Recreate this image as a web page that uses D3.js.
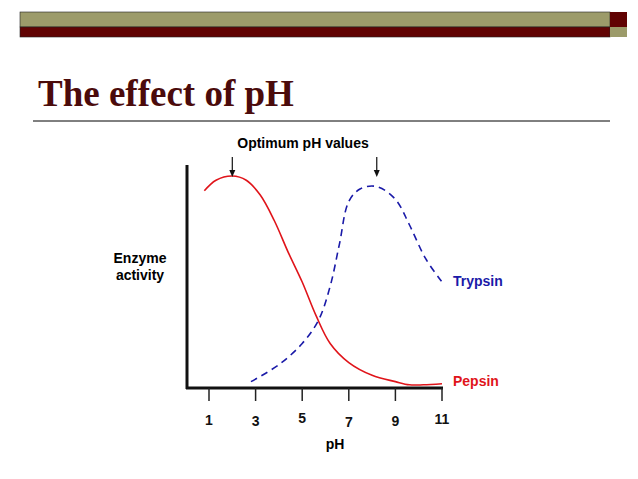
<!DOCTYPE html>
<html>
<head>
<meta charset="utf-8">
<script src="https://cdn.jsdelivr.net/npm/d3@7"></script>
<style>
  body { margin: 0; background: #fff; }
  text { font-family: 'Liberation Sans', Arial, sans-serif; font-weight: bold; }
</style>
</head>
<body>
<svg id="chart" width="638" height="479"></svg>
<script>
// values (pH, relative activity 0-100)
const ticks = [1, 3, 5, 7, 9, 11]
const pepsin = [[0.8, 93], [1.3, 98], [2, 100], [2.6, 98], [3.2, 91], [3.8, 79], [4.4, 64], [5, 50],
  [5.6, 34], [6.2, 21], [7, 12], [8, 6], [9, 3], [9.6, 1.5], [10.2, 1.5], [11, 2]]
const trypsin = [[2.8, 3], [4, 11], [5, 21], [5.7, 32], [6.2, 48], [6.6, 68], [7, 88], [7.5, 94],
  [8.2, 95], [9, 89], [9.6, 77], [10.3, 61], [11, 50]]
const optima = [2, 8.2]

const svg = d3.select('#chart')

// slide banner
svg.append('rect').attr('x', 20).attr('y', 12).attr('width', 590).attr('height', 15).attr('fill', '#9c9b6a').attr('stroke', '#222').attr('stroke-width', 0.6)
svg.append('rect').attr('x', 20).attr('y', 27).attr('width', 590).attr('height', 10).attr('fill', '#610303').attr('stroke', '#222').attr('stroke-width', 0.6)
svg.append('rect').attr('x', 610).attr('y', 12).attr('width', 17).attr('height', 15).attr('fill', '#610303')
svg.append('rect').attr('x', 610).attr('y', 27).attr('width', 17).attr('height', 10).attr('fill', '#9c9b6a')

svg.append('text').attr('x', 38).attr('y', 106).text('The effect of pH')
  .style('font-family', "'Liberation Serif', 'Times New Roman', serif").style('font-size', '37px').attr('fill', '#4b0b0b')
svg.append('line').attr('x1', 33).attr('x2', 610).attr('y1', 121).attr('y2', 121).attr('stroke', '#000').attr('stroke-width', 1)

const x = d3.scaleLinear().domain([1, 11]).range([209, 442])
const y = d3.scaleLinear().domain([0, 100]).range([388, 176])

// axes
svg.append('line').attr('x1', 187).attr('x2', 187).attr('y1', 165).attr('y2', 389).attr('stroke', '#111').attr('stroke-width', 3)
svg.append('line').attr('x1', 186).attr('x2', 443).attr('y1', 388).attr('y2', 388).attr('stroke', '#111').attr('stroke-width', 3)
const tickOffset = [0, 1, -2, 2, 1, -1]
ticks.forEach((t, i) => {
  svg.append('line').attr('x1', x(t)).attr('x2', x(t)).attr('y1', 388).attr('y2', 401).attr('stroke', '#222').attr('stroke-width', 1.5)
  svg.append('text').attr('x', x(t)).attr('y', 425 + tickOffset[i]).attr('text-anchor', 'middle')
    .style('font-size', '14px').attr('fill', '#111').text(t)
})
svg.append('text').attr('x', 335).attr('y', 449).attr('text-anchor', 'middle').style('font-size', '14px').text('pH')
svg.append('text').attr('x', 140).attr('y', 263).attr('text-anchor', 'middle').style('font-size', '14px').text('Enzyme')
svg.append('text').attr('x', 140).attr('y', 280).attr('text-anchor', 'middle').style('font-size', '14px').text('activity')

const line = d3.line().x(d => x(d[0])).y(d => y(d[1])).curve(d3.curveCatmullRom)
svg.append('path').attr('d', line(pepsin)).attr('fill', 'none').attr('stroke', '#e0141a').attr('stroke-width', 1.6)
svg.append('path').attr('d', line(trypsin)).attr('fill', 'none').attr('stroke', '#1a1aa8').attr('stroke-width', 1.6).attr('stroke-dasharray', '7,5')

svg.append('text').attr('x', 453).attr('y', 286).style('font-size', '14px').attr('fill', '#1a1aa8').text('Trypsin')
svg.append('text').attr('x', 453).attr('y', 386).style('font-size', '14px').attr('fill', '#e0141a').text('Pepsin')

// optimum arrows
svg.append('text').attr('x', 303).attr('y', 148).attr('text-anchor', 'middle').style('font-size', '14px').text('Optimum pH values')
optima.forEach(p => {
  const cx = x(p)
  svg.append('line').attr('x1', cx).attr('x2', cx).attr('y1', 157).attr('y2', 171).attr('stroke', '#111').attr('stroke-width', 1.2)
  svg.append('path').attr('d', `M${cx - 3},${170} L${cx + 3},${170} L${cx},${177} Z`).attr('fill', '#111')
})
</script>
</body>
</html>
